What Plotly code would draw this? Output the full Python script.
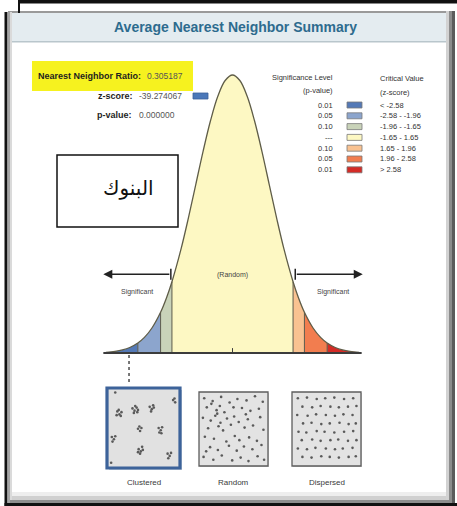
import plotly.graph_objects as go

W, H = 457, 506

# ---- data ----
title = "Average Nearest Neighbor Summary"
nn_ratio = "0.305187"
z_score = "-39.274067"
p_value = "0.000000"

# bell curve outline (z, height)
curve_z = [-3.45, -3.2, -3.0, -2.8, -2.58, -2.4, -2.2, -1.96, -1.8, -1.65, -1.4, -1.2,
           -1.0, -0.8, -0.6, -0.4, -0.2, 0.0, 0.2, 0.4, 0.6, 0.8, 1.0, 1.2, 1.4,
           1.65, 1.8, 1.96, 2.2, 2.4, 2.58, 2.8, 3.0, 3.2, 3.45]
curve_h = [0.0010, 0.0024, 0.0044, 0.0079, 0.0143, 0.0224, 0.0355, 0.0584, 0.0790, 0.1023,
           0.1497, 0.1942, 0.2420, 0.2897, 0.3332, 0.3683, 0.3910, 0.3989, 0.3910, 0.3683,
           0.3332, 0.2897, 0.2420, 0.1942, 0.1497, 0.1023, 0.0790, 0.0584, 0.0355, 0.0224,
           0.0143, 0.0079, 0.0044, 0.0024, 0.0010]

band_edges = [-3.45, -2.58, -1.96, -1.65, 1.65, 1.96, 2.58, 3.45]
band_colors = ["#5479b6", "#8ca5cd", "#c9d3b9", "#fdf8c3", "#f9c291", "#f27d4f", "#d42b26"]
sig_levels = ["0.01", "0.05", "0.10", "---", "0.10", "0.05", "0.01"]
crit_values = ["< -2.58", "-2.58 - -1.96", "-1.96 - -1.65", "-1.65 - 1.65",
               "1.65 - 1.96", "1.96 - 2.58", "> 2.58"]

observed_z = -2.82  # where the dotted pointer sits (z-score is off the chart)

panel_labels = ["Clustered", "Random", "Dispersed"]

clustered_x = [0.9, 1.2, 1.5, 1.8, 1.4, 1.7, 1.1, 3.4, 3.7, 4.0, 4.2, 3.8, 3.6, 4.1,
               5.9, 6.2, 6.5, 6.1, 6.4, 9.3, 9.6, 9.5, 0.4, 0.7, 0.5, 0.9,
               4.2, 4.5, 4.7, 4.4, 7.2, 7.5, 7.7, 7.3, 7.6,
               4.3, 4.6, 4.9, 4.5, 4.8, 4.2, 8.5, 8.8, 9.0, 8.6, 0.3]
clustered_y = [9.7, 7.2, 6.8, 7.1, 7.4, 6.6, 6.7, 7.6, 7.3, 7.7, 7.4, 7.9, 7.0, 7.1,
               7.8, 7.5, 7.7, 7.2, 8.0, 8.7, 8.4, 8.9, 3.8, 3.5, 3.2, 3.9,
               4.9, 4.6, 5.0, 5.2, 5.0, 4.7, 5.1, 4.4, 4.3,
               2.2, 1.9, 2.1, 1.6, 2.5, 1.8, 1.6, 1.3, 1.7, 1.0, 0.4]

random_x = [0.5, 1.8, 3.1, 4.4, 5.6, 7.0, 8.3, 9.5, 0.9, 2.4, 2.9, 3.6, 6.3, 7.6, 8.9,
            0.3, 1.5, 2.2, 4.0, 5.1, 5.8, 7.2, 9.1, 1.1, 2.7, 3.4, 4.6, 6.7, 8.0, 9.6,
            0.6, 2.0, 3.9, 5.2, 5.9, 7.4, 8.6, 1.4, 2.6, 4.3, 5.5, 6.6, 7.9, 9.3,
            0.4, 1.9, 3.2, 4.8, 6.1, 7.3, 8.7, 9.7, 3.0, 6.9, 0.8, 5.0, 1.6, 2.5]
random_y = [9.4, 9.0, 9.6, 8.8, 9.3, 9.1, 9.7, 8.9, 8.1, 7.7, 8.3, 7.4, 8.0, 7.6, 7.9,
            6.6, 6.2, 6.9, 6.5, 6.8, 6.0, 6.4, 6.7, 5.1, 5.4, 4.8, 5.6, 5.2, 5.5, 4.9,
            3.9, 3.6, 3.2, 4.0, 3.4, 3.8, 3.3, 2.4, 2.0, 2.6, 1.9, 2.5, 2.1, 2.7,
            1.0, 0.6, 1.2, 0.5, 0.9, 0.4, 1.1, 0.6, 5.9, 7.1, 1.8, 8.1, 8.6, 7.2]

dispersed_x = [0.6, 2.0, 3.5, 4.8, 6.2, 7.7, 9.1,
               1.3, 2.8, 4.1, 5.6, 6.9, 8.3, 9.6,
               0.5, 2.1, 3.4, 4.9, 6.3, 7.6, 9.0,
               1.4, 2.7, 4.2, 5.5, 7.0, 8.4, 9.5,
               0.7, 1.9, 3.5, 4.7, 6.2, 7.7, 9.1,
               1.2, 2.8, 4.1, 5.6, 6.8, 8.3, 9.6,
               0.6, 2.0, 3.3, 4.9, 6.3, 7.5, 9.0,
               1.3, 2.7, 4.2, 5.5, 6.9, 8.4, 9.5]
dispersed_y = [9.4, 9.5, 9.3, 9.4, 9.5, 9.3, 9.4,
               8.2, 8.1, 8.3, 8.2, 8.1, 8.2, 8.3,
               7.0, 6.9, 7.1, 7.0, 6.9, 7.1, 7.0,
               5.8, 5.9, 5.7, 5.8, 5.9, 5.7, 5.8,
               4.6, 4.5, 4.7, 4.6, 4.5, 4.6, 4.7,
               3.4, 3.5, 3.3, 3.4, 3.5, 3.3, 3.4,
               2.2, 2.1, 2.3, 2.2, 2.1, 2.2, 2.3,
               1.0, 0.9, 1.1, 1.0, 0.9, 1.0, 1.1]

arabic_label = "البنوك"

FONT = "Liberation Sans"


def px(x):
    return x / W


def py(y):
    return 1 - y / H


shapes = []
annotations = []


def rect(x0, y0, x1, y1, fill, line=None, width=0, layer="below"):
    shapes.append(dict(type="rect", xref="paper", yref="paper",
                       x0=px(x0), x1=px(x1), y0=py(y1), y1=py(y0),
                       fillcolor=fill, layer=layer,
                       line=dict(color=line or fill, width=width)))


def text(x, y, s, size=8, color="#333333", anchor="center", bold=False, family=FONT):
    annotations.append(dict(xref="paper", yref="paper", x=px(x), y=py(y),
                            text="<b>%s</b>" % s if bold else s, showarrow=False,
                            xanchor=anchor, yanchor="middle",
                            font=dict(family=family, size=size, color=color)))


fig = go.Figure()

# ---- bell curve bands ----
for i in range(len(band_colors)):
    lo, hi = band_edges[i], band_edges[i + 1]
    bx = [z for z in curve_z if lo <= z <= hi]
    by = [h for z, h in zip(curve_z, curve_h) if lo <= z <= hi]
    fig.add_trace(go.Scatter(x=bx, y=by, fill="tozeroy", fillcolor=band_colors[i],
                             mode="lines", line=dict(width=0, shape="spline"),
                             hoverinfo="skip"))

# dividers between bands
div_x, div_y = [], []
for b in band_edges[1:-1]:
    div_x += [b, b, None]
    div_y += [0, curve_h[curve_z.index(b)], None]
fig.add_trace(go.Scatter(x=div_x, y=div_y, mode="lines",
                         line=dict(color="#5c5b4c", width=1), hoverinfo="skip"))

# outline
fig.add_trace(go.Scatter(x=curve_z, y=curve_h, mode="lines",
                         line=dict(color="#5f5d48", width=1.3, shape="spline"),
                         hoverinfo="skip"))

# baseline, centre tick and pointer
fig.add_trace(go.Scatter(x=[-3.52, 3.52], y=[0, 0], mode="lines",
                         line=dict(color="#3c3c3c", width=2), hoverinfo="skip"))
fig.add_trace(go.Scatter(x=[0, 0], y=[0, 0.007], mode="lines",
                         line=dict(color="#3c3c3c", width=1), hoverinfo="skip"))
fig.add_trace(go.Scatter(x=[observed_z, observed_z], y=[-0.003, -0.046], mode="lines",
                         line=dict(color="#555555", width=1.6, dash="dot"), hoverinfo="skip"))

# arrows for significant regions
arrow_y = 0.113
for tail, head in [(-1.68, -3.52), (1.71, 3.55)]:
    annotations.append(dict(xref="x", yref="y", axref="x", ayref="y",
                            x=head, y=arrow_y, ax=tail, ay=arrow_y, text="",
                            showarrow=True, arrowhead=2, arrowsize=1.2,
                            arrowwidth=1.5, arrowcolor="#222222"))
    shapes.append(dict(type="line", xref="x", yref="y", x0=tail, x1=tail,
                       y0=arrow_y - 0.008, y1=arrow_y + 0.008,
                       line=dict(color="#222222", width=1.5)))
for zx in (-2.6, 2.74):
    annotations.append(dict(xref="x", yref="y", x=zx, y=0.087, text="Significant",
                            showarrow=False, font=dict(family=FONT, size=7, color="#444444")))
annotations.append(dict(xref="x", yref="y", x=0, y=0.112, text="(Random)",
                        showarrow=False, font=dict(family=FONT, size=7, color="#444444")))

# ---- frame / window ----
rect(11, 13, 447, 42, "#e4ecf0")
rect(11, 41, 447, 42.5, "#b9c6cc")
rect(8, 11, 450, 13, "#9a9a9a")
rect(18, 0, W, 3.5, "#111111", layer="above")
rect(18, 0, 20, 13, "#111111", layer="above")
rect(4.5, 12, 7.5, H, "#111111", layer="above")
rect(7.5, 12, 10, H, "#a4a4a4", layer="above")
rect(10, 12, 12, H, "#dadada", layer="above")
rect(446, 11, 449, 503, "#d2d2d2", layer="above")
rect(449, 11, 452, 503, "#8c8c8c", layer="above")
rect(452, 11, 455, 503, "#5c5c5c", layer="above")
rect(12, 492, 446, 496, "#eeeeee", layer="above")
rect(12, 496, 446, 500, "#d0d0d0", layer="above")
rect(10, 500, 449, 503, "#8e8e8e", layer="above")
rect(4.5, 503, W, H, "#111111", layer="above")

text(235, 27, title, size=14, color="#2d6b8e", bold=True)

# ---- pattern panels ----
panel_pts = [(clustered_x, clustered_y), (random_x, random_y), (dispersed_x, dispersed_y)]
panel_dom_x = [(107, 180), (199, 268), (292, 361)]
panel_dom_y = [(388, 468), (392, 466), (392, 466)]
for k in range(3):
    n = k + 2
    fig.add_trace(go.Scatter(x=panel_pts[k][0], y=panel_pts[k][1], mode="markers",
                             marker=dict(size=2.6, color="#5a5a5a"),
                             xaxis="x%d" % n, yaxis="y%d" % n, hoverinfo="skip"))
    x0, x1 = panel_dom_x[k]
    y0, y1 = panel_dom_y[k]
    fig.update_layout(**{
        "xaxis%d" % n: dict(domain=[px(x0), px(x1)], range=[-0.3, 10.3], visible=False,
                            anchor="y%d" % n),
        "yaxis%d" % n: dict(domain=[py(y1), py(y0)], range=[-0.3, 10.3], visible=False,
                            anchor="x%d" % n),
    })
    if k == 0:
        rect(x0 + 2, y0 + 2, x1 + 2, y1 + 2, "#c9d2dd")
        rect(x0, y0, x1, y1, "#e1e1e1", "#3d639a", 3.2)
    else:
        rect(x0 + 1, y0 + 1, x1 + 1, y1 + 1, "#d6d6d6")
        rect(x0, y0, x1, y1, "#e3e3e3", "#5d5d5d", 1.3)
    text((x0 + x1) / 2, 482, panel_labels[k], size=8, color="#3a3a3a")

# ---- statistics block ----
rect(32, 61, 193, 91, "#f6f21f")
text(143, 76, "Nearest Neighbor Ratio:", size=9, color="#1e1e1e", anchor="right", bold=True)
text(145, 76, nn_ratio, size=8.5, color="#555555", anchor="left")
text(135, 96, "z-score:", size=9, color="#1e1e1e", anchor="right", bold=True)
text(137, 96, z_score, size=8.5, color="#555555", anchor="left")
rect(193, 93, 208, 99, "#4b78b9", "#3a5f99", 0.8, layer="above")
text(134, 115, "p-value:", size=9, color="#1e1e1e", anchor="right", bold=True)
text(137, 115, p_value, size=8.5, color="#555555", anchor="left")

# ---- legend ----
text(335, 77, "Significance Level", size=7.5, color="#333333", anchor="right")
text(335, 91, "(p-value)", size=7.5, color="#333333", anchor="right")
text(378, 78, "Critical Value", size=7.5, color="#333333", anchor="left")
text(378, 92, "(z-score)", size=7.5, color="#333333", anchor="left")
for i in range(len(sig_levels)):
    ry = 105 + i * 10.8
    text(335, ry, sig_levels[i], size=7.5, color="#333333", anchor="right")
    rect(347, ry - 3, 362, ry + 3, band_colors[i], "#7a7a7a", 0.8, layer="above")
    text(378, ry, crit_values[i], size=7.5, color="#333333", anchor="left")

# ---- arabic label box ----
rect(57, 155, 178, 227, "#ffffff", "#111111", 1.5, layer="above")
text(128, 188, arabic_label, size=20, color="#111111", family="DejaVu Sans")

fig.update_layout(
    width=W, height=H,
    margin=dict(l=0, r=0, t=0, b=0),
    paper_bgcolor="#ffffff",
    plot_bgcolor="rgba(0,0,0,0)",
    showlegend=False,
    xaxis=dict(domain=[px(100.4), px(364.6)], range=[-3.6, 3.6], visible=False),
    yaxis=dict(domain=[py(394.8), py(60.3)], range=[-0.06, 0.42], visible=False),
    shapes=shapes,
    annotations=annotations,
)

# page body has an 8px default margin; drop it so the figure sits at the window origin
fig.write_html("out.html", config={"displayModeBar": False},
               post_script="document.body.style.margin='0';")
